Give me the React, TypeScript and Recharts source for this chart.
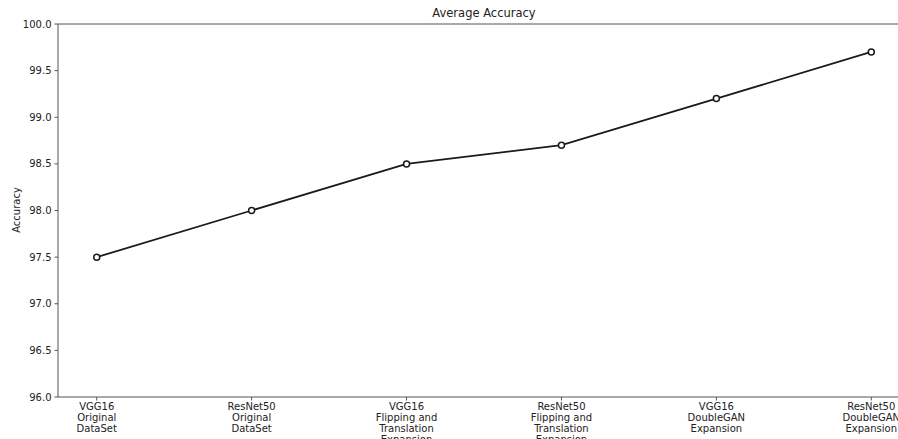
import React from "react";
import { LineChart, Line, XAxis, YAxis, ReferenceLine } from "recharts";

const categories = [
  ["VGG16", "Original", "DataSet"],
  ["ResNet50", "Original", "DataSet"],
  ["VGG16", "Flipping and", "Translation", "Expansion"],
  ["ResNet50", "Flipping and", "Translation", "Expansion"],
  ["VGG16", "DoubleGAN", "Expansion"],
  ["ResNet50", "DoubleGAN", "Expansion"],
];
const accuracy = [97.5, 98.0, 98.5, 98.7, 99.2, 99.7];
const yTicks = [96.0, 96.5, 97.0, 97.5, 98.0, 98.5, 99.0, 99.5, 100.0];

const data = accuracy.map((v, i) => ({ idx: i, accuracy: v }));

const FONT = "'DejaVu Sans', sans-serif";
const SPINE = "#555";

const CategoryTick = ({ x, y, payload }: any) => {
  const lines = categories[payload.value] ?? [];
  return (
    <text x={x} y={y} textAnchor="middle" fontFamily={FONT} fontSize={10} fill="#222">
      {lines.map((l, i) => (
        <tspan key={i} x={x} dy={i === 0 ? "0.71em" : 11}>
          {l}
        </tspan>
      ))}
    </text>
  );
};

export default function App() {
  return (
    <div style={{ position: "absolute", left: 0, top: 0, width: 898, height: 439, overflow: "hidden", background: "#fff" }}>
      <LineChart
        width={960}
        height={439}
        data={data}
        margin={{ top: 24, right: 50, bottom: 0, left: 0 }}
      >
        <text x={484} y={17} textAnchor="middle" fontFamily={FONT} fontSize={11.5} fill="#222">
          Average Accuracy
        </text>
        <text
          x={20}
          y={210}
          textAnchor="middle"
          fontFamily={FONT}
          fontSize={10}
          fill="#222"
          transform="rotate(-90 20 210)"
        >
          Accuracy
        </text>
        <XAxis
          dataKey="idx"
          type="number"
          domain={[-0.25, 5.25]}
          ticks={[0, 1, 2, 3, 4, 5]}
          interval={0}
          height={42}
          tick={<CategoryTick />}
          tickSize={3.5}
          tickMargin={2}
          stroke={SPINE}
          tickLine={{ stroke: SPINE }}
        />
        <YAxis
          type="number"
          domain={[96, 100]}
          ticks={yTicks}
          interval={0}
          width={58}
          tickSize={3.5}
          tickMargin={3}
          tickFormatter={(v: number) => v.toFixed(1)}
          tick={{ fontFamily: FONT, fontSize: 10, fill: "#222" }}
          stroke={SPINE}
          tickLine={{ stroke: SPINE }}
        />
        <ReferenceLine y={100} stroke={SPINE} strokeWidth={1} ifOverflow="visible" />
        <Line
          dataKey="accuracy"
          type="linear"
          stroke="#1a1a1a"
          strokeWidth={1.8}
          dot={{ r: 3, fill: "#fff", stroke: "#1a1a1a", strokeWidth: 1.5 }}
          activeDot={false}
          isAnimationActive={false}
        />
      </LineChart>
    </div>
  );
}
